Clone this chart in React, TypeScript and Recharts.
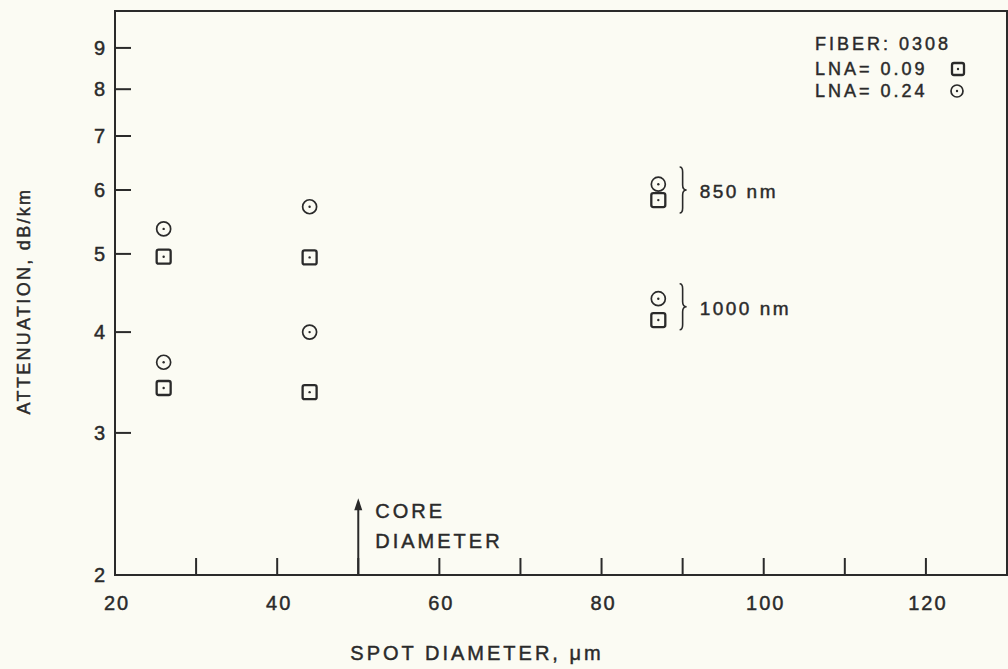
import React from "react";
import {
  ScatterChart,
  Scatter,
  XAxis,
  YAxis,
  ReferenceArea,
  ReferenceLine,
  ReferenceDot,
  Label,
} from "recharts";

// spot diameter (µm) of each measured point
const spotDiameter = [26, 26, 44, 44, 87, 87];
// attenuation, dB/km
const attenLna009 = [4.96, 3.41, 4.95, 3.37, 5.83, 4.14];
const attenLna024 = [5.37, 3.67, 5.72, 4.0, 6.1, 4.4];

const xTicks = [20, 30, 40, 50, 60, 70, 80, 90, 100, 110, 120];
const xTickLabels = [20, 40, 60, 80, 100, 120];
const yTicks = [2, 3, 4, 5, 6, 7, 8, 9];

const wavelengthNotes = [
  { label: "850 nm", x: 90, y: 6.0 },
  { label: "1000 nm", x: 90, y: 4.3 },
];
const coreDiameter = 50;
const coreArrowTip = 2.49;

const legendLines = ["FIBER: 0308", "LNA= 0.09", "LNA= 0.24"];

const INK = "#2a2a2a";
const FONT = "'Liberation Sans', Arial, sans-serif";
const AXIS_X = 115;
// light outline to give the text the heavier look of the original
const TXT = { fill: INK, stroke: INK, strokeWidth: 0.45, fontFamily: FONT };

const squareData = spotDiameter.map((x, i) => ({ x, y: attenLna009[i] }));
const circleData = spotDiameter.map((x, i) => ({ x, y: attenLna024[i] }));

function SquareMark({ cx, cy, size = 14 }: any) {
  const h = size / 2;
  return (
    <g>
      <rect x={cx - h} y={cy - h} width={size} height={size} rx={2} fill="none" stroke={INK} strokeWidth={2.3} />
      <circle cx={cx} cy={cy} r={1.2} fill={INK} />
    </g>
  );
}

function CircleMark({ cx, cy, r = 7 }: any) {
  return (
    <g>
      <circle cx={cx} cy={cy} r={r} fill="none" stroke={INK} strokeWidth={1.7} />
      <circle cx={cx} cy={cy} r={1.2} fill={INK} />
    </g>
  );
}

function XTick({ x, y, payload }: any) {
  const v = payload.value;
  return (
    <g>
      {v !== 20 && <line x1={x} x2={x} y1={y} y2={y - 17} stroke={INK} strokeWidth={2} />}
      {xTickLabels.includes(v) && (
        <text x={x + 2} y={y + 35} textAnchor="middle" fontSize={20} letterSpacing={2} {...TXT}>
          {v}
        </text>
      )}
    </g>
  );
}

function YTick({ y, payload }: any) {
  const v = payload.value;
  return (
    <g>
      {v !== 2 && <line x1={AXIS_X} x2={AXIS_X + 16} y1={y} y2={y} stroke={INK} strokeWidth={2} />}
      <text x={AXIS_X - 10} y={y + 7} textAnchor="end" fontSize={20} {...TXT}>
        {v}
      </text>
    </g>
  );
}

function XTitle({ viewBox }: any) {
  return (
    <text x={viewBox.x + 362} y={viewBox.y + 85} textAnchor="middle" fontSize={20} letterSpacing={3} {...TXT}>
      SPOT DIAMETER,  μm
    </text>
  );
}

function YTitle() {
  return (
    <text
      x={24}
      y={301}
      transform="rotate(-90 24 301)"
      textAnchor="middle"
      dominantBaseline="central"
      fontSize={18}
      letterSpacing={2.3}
      {...TXT}
    >
      ATTENUATION, dB/km
    </text>
  );
}

function BraceNote({ cx, cy, label }: any) {
  const d = `M ${cx - 3} ${cy - 23} Q ${cx} ${cy - 23} ${cx} ${cy - 18} L ${cx} ${cy - 5} Q ${cx} ${cy} ${cx + 4} ${cy} Q ${cx} ${cy} ${cx} ${cy + 5} L ${cx} ${cy + 18} Q ${cx} ${cy + 23} ${cx - 3} ${cy + 23}`;
  return (
    <g>
      <path d={d} fill="none" stroke={INK} strokeWidth={1.6} />
      <text x={cx + 17} y={cy + 8} fontSize={19} letterSpacing={2.5} {...TXT}>
        {label}
      </text>
    </g>
  );
}

function CoreNote({ cx, cy }: any) {
  return (
    <g>
      <path d={`M ${cx} ${cy} L ${cx - 4} ${cy + 12} L ${cx + 4} ${cy + 12} Z`} fill={INK} />
      <text x={cx + 17} y={cy + 20} fontSize={20} letterSpacing={3} {...TXT}>
        CORE
      </text>
      <text x={cx + 17} y={cy + 50} fontSize={20} letterSpacing={3} {...TXT}>
        DIAMETER
      </text>
    </g>
  );
}

function LegendNote({ cx, cy }: any) {
  const left = cx - 192;
  return (
    <g>
      <text x={left} y={cy + 39} fontSize={18} letterSpacing={3} {...TXT}>{legendLines[0]}</text>
      <text x={left} y={cy + 64} fontSize={18} letterSpacing={3} {...TXT}>{legendLines[1]}</text>
      <text x={left} y={cy + 86} fontSize={18} letterSpacing={3} {...TXT}>{legendLines[2]}</text>
      <SquareMark cx={cx - 49} cy={cy + 58} size={12} />
      <CircleMark cx={cx - 50} cy={cy + 80} r={6} />
    </g>
  );
}

export default function App() {
  return (
    <div style={{ position: "absolute", left: 0, top: 0, width: 1008, height: 669, background: "#fbfbf3" }}>
      <ScatterChart width={1008} height={669} margin={{ top: 11, right: 1, left: 0, bottom: 0 }}>
        <XAxis
          type="number"
          dataKey="x"
          domain={[20, 130]}
          ticks={xTicks}
          tick={<XTick />}
          tickLine={false}
          tickSize={0}
          tickMargin={0}
          axisLine={{ stroke: INK, strokeWidth: 2 }}
          height={94}
          interval={0}
          allowDataOverflow
        >
          <Label content={<XTitle />} />
        </XAxis>
        <YAxis
          type="number"
          dataKey="y"
          scale="log"
          domain={[2, 10]}
          ticks={yTicks}
          tick={<YTick />}
          tickLine={false}
          tickSize={0}
          tickMargin={0}
          axisLine={{ stroke: INK, strokeWidth: 2 }}
          width={AXIS_X}
          interval={0}
          allowDataOverflow
        >
          <Label content={<YTitle />} />
        </YAxis>
        <ReferenceArea x1={20} x2={130} y1={2} y2={10} fill="none" stroke={INK} strokeWidth={2} ifOverflow="visible" />
        <ReferenceLine
          segment={[
            { x: coreDiameter, y: 2 },
            { x: coreDiameter, y: coreArrowTip * 0.99 },
          ]}
          stroke={INK}
          strokeWidth={2}
        />
        <ReferenceDot x={coreDiameter} y={coreArrowTip} shape={(p: any) => <CoreNote cx={p.cx} cy={p.cy} />} />
        {wavelengthNotes.map((n) => (
          <ReferenceDot key={n.label} x={n.x} y={n.y} shape={(p: any) => <BraceNote cx={p.cx} cy={p.cy} label={n.label} />} />
        ))}
        <ReferenceDot x={130} y={10} ifOverflow="visible" shape={(p: any) => <LegendNote cx={p.cx} cy={p.cy} />} />
        <Scatter name="LNA= 0.09" data={squareData} shape={(p: any) => <SquareMark cx={p.cx} cy={p.cy} />} isAnimationActive={false} />
        <Scatter name="LNA= 0.24" data={circleData} shape={(p: any) => <CircleMark cx={p.cx} cy={p.cy} />} isAnimationActive={false} />
      </ScatterChart>
    </div>
  );
}
